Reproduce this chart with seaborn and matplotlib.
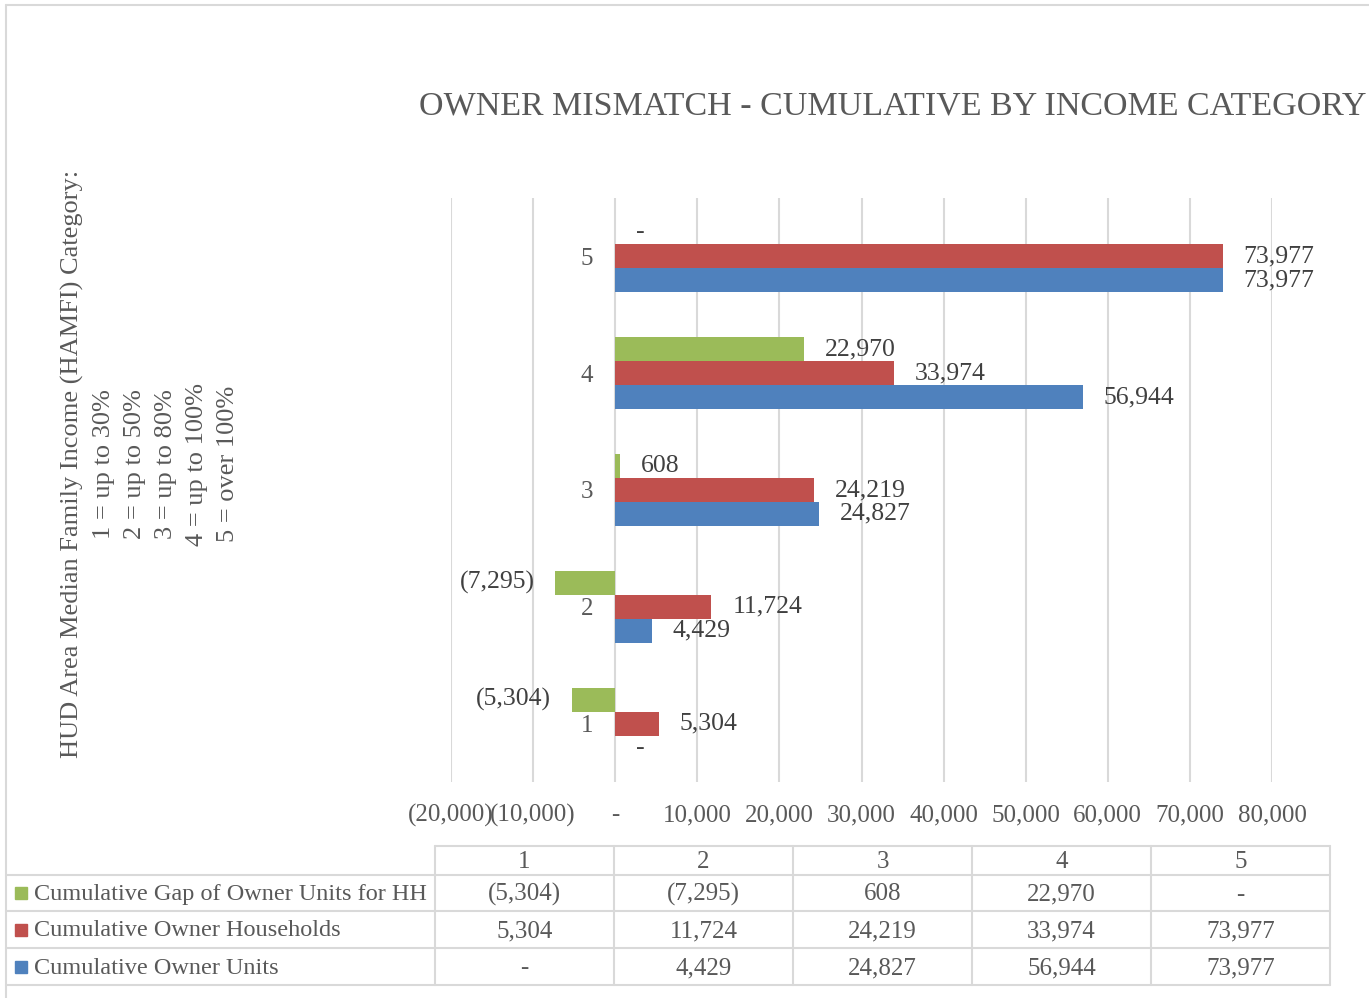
import numpy as np
import pandas as pd
import seaborn as sns
import matplotlib.pyplot as plt
from matplotlib.ticker import MultipleLocator, FuncFormatter

# income categories and the three cumulative series
categories = ['1', '2', '3', '4', '5']
gap_units = [-5304, -7295, 608, 22970, 0]
owner_households = [5304, 11724, 24219, 33974, 73977]
owner_units = [0, 4429, 24827, 56944, 73977]

series_names = ['Cumulative Gap of Owner Units for HH',
                'Cumulative Owner Households',
                'Cumulative Owner Units']
series_colors = ['#9BBB59', '#C0504D', '#4F81BD']

title = 'OWNER MISMATCH - CUMULATIVE BY INCOME CATEGORY'
ylabel = ('HUD Area Median Family Income (HAMFI) Category:\n'
          '1 = up to 30%\n2 = up to 50%\n3 = up to 80%\n'
          '4 = up to 100%\n5 = over 100%')


def fmt(v):
    # accounting style numbers like the spreadsheet
    if v == 0:
        return '-'
    if v < 0:
        return '({:,.0f})'.format(-v)
    return '{:,.0f}'.format(v)


series_values = [gap_units, owner_households, owner_units]
df = pd.DataFrame({
    'category': categories * 3,
    'series': np.repeat(series_names, len(categories)),
    'value': gap_units + owner_households + owner_units,
})

sns.set_theme(style='white')
plt.rcParams['font.family'] = ['Liberation Serif', 'DejaVu Serif']

W, H = 1369, 998
fig = plt.figure(figsize=(W / 100, H / 100), dpi=100)
ax = fig.add_axes([451 / W, 1 - 782 / H, (1272 - 451) / W, (782 - 198) / H])

order = categories[::-1]
sns.barplot(data=df, y='category', x='value', hue='series', orient='h',
            order=order, hue_order=series_names, palette=series_colors,
            saturation=1, width=0.615, linewidth=0, legend=False, ax=ax)

ax.set_xlim(-20000, 80000)
ax.set_ylim(4.5, -0.5)
ax.xaxis.set_major_locator(MultipleLocator(10000))
ax.xaxis.set_major_formatter(FuncFormatter(lambda v, p: fmt(v)))
ax.grid(axis='x', color='#D9D9D9', linewidth=1.5)
ax.set_axisbelow(True)
for s in ['top', 'right', 'bottom']:
    ax.spines[s].set_visible(False)
ax.spines['left'].set_position(('data', 0))
ax.spines['left'].set_visible(False)
ax.tick_params(axis='x', length=0, pad=16, labelsize=18, labelcolor='#595959')
ax.tick_params(axis='y', length=0, pad=16, labelsize=18, labelcolor='#595959')
ax.set_xlabel('')
ax.set_ylabel('')

# data labels
for cont, vals in zip(ax.containers, series_values):
    labels = [fmt(v) for v in vals[::-1]]
    ax.bar_label(cont, labels=labels, padding=15, fontsize=18.5, color='#404040')

fig.text(893 / W, 1 - 106 / H, title, ha='center', va='center',
         fontsize=24.5, color='#595959')
fig.text(150 / W, 1 - 464 / H, ylabel, rotation=90, ha='center', va='center',
         multialignment='center', fontsize=19, color='#595959', linespacing=1.53)

# overlay in pixel coordinates for the border and the data table
ov = fig.add_axes([0, 0, 1, 1])
ov.set_xlim(0, W)
ov.set_ylim(H, 0)
ov.axis('off')
line_c = '#D9D9D9'
ov.plot([6, 6], [5, H], color=line_c, lw=1.5)
ov.plot([6, W], [5, 5], color=line_c, lw=1.5)

col_edges = [435, 614, 793, 972, 1151, 1330]
row_edges = [846, 875, 911, 948, 985]
ov.plot([col_edges[0], col_edges[-1]], [row_edges[0]] * 2, color=line_c, lw=1.5)
for y in row_edges[1:]:
    ov.plot([6, col_edges[-1]], [y, y], color=line_c, lw=1.5)
for x in col_edges:
    ov.plot([x, x], [row_edges[0], row_edges[-1]], color=line_c, lw=1.5)

for i, c in enumerate(categories):
    xc = (col_edges[i] + col_edges[i + 1]) / 2
    ov.text(xc, (row_edges[0] + row_edges[1]) / 2 + 1.5, c, ha='center', va='center',
            fontsize=18, color='#595959')

for r, (name, color, vals) in enumerate(zip(series_names, series_colors, series_values)):
    yc = (row_edges[r + 1] + row_edges[r + 2]) / 2
    ov.add_patch(plt.Rectangle((15, yc - 6), 12, 12, color=color))
    ov.text(34, yc + 1.5, name, ha='left', va='center', fontsize=17.5, color='#595959')
    for i, v in enumerate(vals):
        xc = (col_edges[i] + col_edges[i + 1]) / 2
        ov.text(xc, yc + 1.5, fmt(v), ha='center', va='center', fontsize=18, color='#595959')

fig.savefig('out.png', dpi=100)
